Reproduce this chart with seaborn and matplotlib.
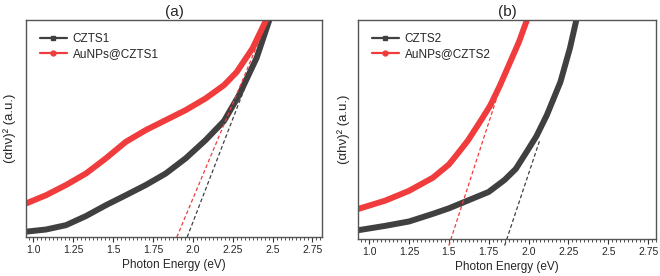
import numpy as np
import pandas as pd
import matplotlib
matplotlib.use("Agg")
import matplotlib.pyplot as plt
from matplotlib.lines import Line2D
from matplotlib.ticker import MultipleLocator, FixedLocator, FixedFormatter
import seaborn as sns

# ---------------- data ----------------
tick_values = [1.0, 1.25, 1.5, 1.75, 2.0, 2.25, 2.5, 2.75]
tick_labels = ["1.0", "1.25", "1.5", "1.75", "2.0", "2.25", "2.5", "2.75"]

# panel (a)
czts1_E = [0.956, 1.081, 1.206, 1.331, 1.456, 1.581, 1.706, 1.831, 1.956, 2.081,
           2.196, 2.29, 2.4, 2.48]
czts1_y = [0.025, 0.035, 0.055, 0.097, 0.147, 0.193, 0.24, 0.293, 0.363, 0.447,
           0.535, 0.654, 0.825, 1.0]
au1_E = [0.956, 1.081, 1.206, 1.331, 1.456, 1.581, 1.706, 1.831, 1.956, 2.081,
         2.196, 2.275, 2.375, 2.46]
au1_y = [0.155, 0.193, 0.24, 0.293, 0.363, 0.439, 0.493, 0.539, 0.585, 0.639,
         0.70, 0.76, 0.87, 1.0]
fit1_gray_E = [1.965, 2.49]
fit1_gray_y = [0.0, 1.0]
fit1_red_E = [1.90, 2.47]
fit1_red_y = [0.0, 1.0]

# panel (b)
czts2_E = [0.93, 1.1, 1.25, 1.4, 1.5, 1.6, 1.75, 1.85, 1.92, 1.99, 2.05, 2.115,
           2.2, 2.26, 2.3]
czts2_y = [0.04, 0.06, 0.08, 0.115, 0.14, 0.17, 0.215, 0.27, 0.32, 0.40, 0.47,
           0.566, 0.717, 0.872, 1.0]
au2_E = [0.93, 1.1, 1.25, 1.4, 1.5, 1.55, 1.62, 1.7, 1.76, 1.82, 1.88, 1.94, 1.99]
au2_y = [0.137, 0.175, 0.22, 0.28, 0.34, 0.385, 0.45, 0.54, 0.61, 0.70, 0.80,
         0.90, 1.0]
fit2_gray_E = [1.85, 2.07]
fit2_gray_y = [-0.03, 0.45]
fit2_red_E = [1.50, 1.87]
fit2_red_y = [-0.03, 0.80]

GRAY = "#404040"
RED = "#f03c3c"

sns.set_style("white")
plt.rcParams["font.family"] = ["Liberation Sans", "DejaVu Sans"]

fig = plt.figure(figsize=(6.6, 2.76), dpi=100)
ax1 = fig.add_axes([0.0394, 0.141, 0.4485, 0.7865])
ax2 = fig.add_axes([0.5424, 0.134, 0.4516, 0.7935])


def draw(ax, gE, gy, rE, ry, fgE, fgy, frE, fry, names, title, xlim):
    df = pd.concat([
        pd.DataFrame({"E": gE, "y": gy, "s": names[0]}),
        pd.DataFrame({"E": rE, "y": ry, "s": names[1]}),
    ])
    sns.lineplot(data=df, x="E", y="y", hue="s", palette=[GRAY, RED],
                 sort=False, estimator=None, linewidth=4.3, ax=ax, legend=False)
    for ln in ax.lines:
        ln.set_solid_joinstyle("round")
        ln.set_solid_capstyle("butt")
    fd = pd.concat([
        pd.DataFrame({"E": fgE, "y": fgy, "s": "g"}),
        pd.DataFrame({"E": frE, "y": fry, "s": "r"}),
    ])
    sns.lineplot(data=fd, x="E", y="y", hue="s", palette=[GRAY, RED],
                 sort=False, estimator=None, linewidth=0.9, ax=ax, legend=False)
    for ln in ax.lines[-2:]:
        ln.set_dashes((3, 2))
        ln.set_clip_on(False)
    ax.set_xlim(*xlim)
    ax.set_ylim(0, 1)
    ax.xaxis.set_major_locator(FixedLocator(tick_values))
    ax.xaxis.set_major_formatter(FixedFormatter(tick_labels))
    ax.xaxis.set_minor_locator(MultipleLocator(0.025))
    ax.tick_params(axis="x", which="major", direction="out", length=3.5, width=0.8,
                   color="#333333", labelsize=7.5, pad=2, bottom=True)
    ax.tick_params(axis="x", which="minor", direction="out", length=2, width=0.6,
                   color="#333333", bottom=True)
    ax.set_yticks([])
    ax.set_xlabel("Photon Energy (eV)", fontsize=8.5, labelpad=3)
    ax.set_ylabel("(αhν)² (a.u.)", fontsize=9.5, labelpad=4)
    ax.set_title(title, fontsize=11, pad=3)
    for sp in ax.spines.values():
        sp.set_color("#555555")
        sp.set_linewidth(1.0)
    handles = [
        Line2D([0], [0], color=GRAY, lw=1.6, marker="s", markersize=3.5),
        Line2D([0], [0], color=RED, lw=1.6, marker="o", markersize=3.5),
    ]
    ax.legend(handles, names, loc="upper left", frameon=False, fontsize=8.5,
              handlelength=2.3, handletextpad=0.5, labelspacing=0.3,
              borderaxespad=0.5, bbox_to_anchor=(0.01, 0.99))


draw(ax1, czts1_E, czts1_y, au1_E, au1_y, fit1_gray_E, fit1_gray_y,
     fit1_red_E, fit1_red_y, ["CZTS1", "AuNPs@CZTS1"], "(a)", (0.955, 2.81))
draw(ax2, czts2_E, czts2_y, au2_E, au2_y, fit2_gray_E, fit2_gray_y,
     fit2_red_E, fit2_red_y, ["CZTS2", "AuNPs@CZTS2"], "(b)", (0.93, 2.80))

ax1.yaxis.set_label_coords(-0.033, 0.5)
ax2.yaxis.set_label_coords(-0.027, 0.5)

fig.savefig("out.png", dpi=100)
